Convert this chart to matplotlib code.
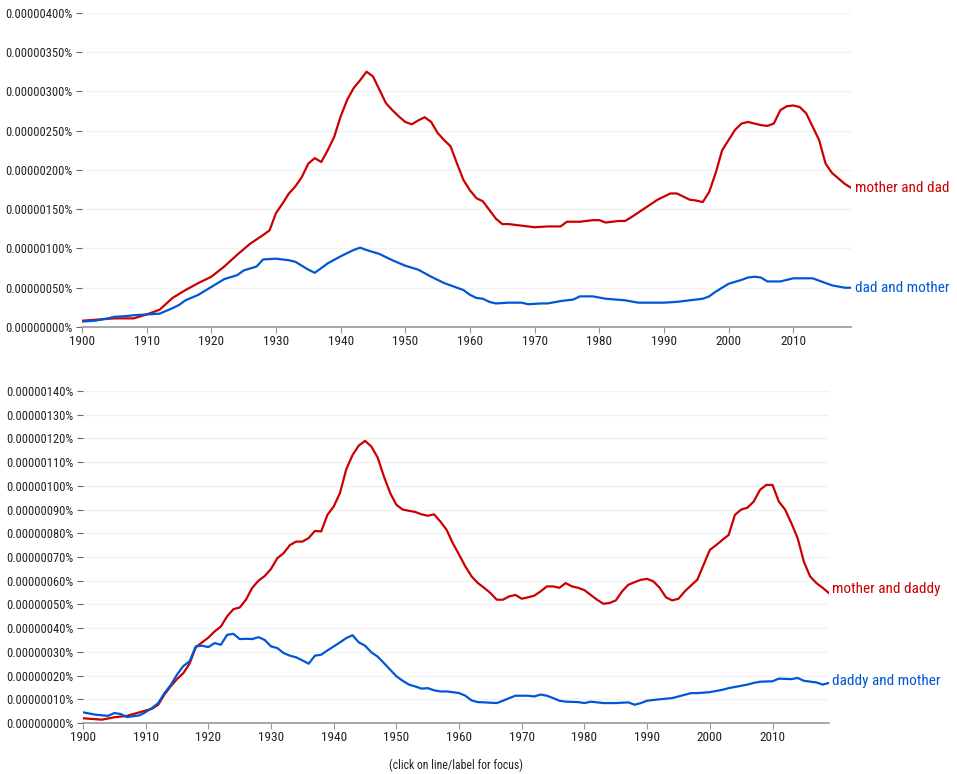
import matplotlib.pyplot as plt
import matplotlib.ticker as mticker
import numpy as np

plt.rcParams['font.family'] = ['Roboto Condensed', 'Roboto', 'DejaVu Sans']

# values in units of 1e-8 percent (e.g. 325 -> 0.00000325%)
md_years = [1900, 1905, 1908, 1910, 1912, 1914, 1916, 1918, 1920, 1922, 1924, 1926, 1928, 1929,
            1930, 1931, 1932, 1933, 1934, 1935, 1936, 1937, 1938, 1939, 1940, 1941, 1942, 1943,
            1944, 1945, 1946, 1947, 1948, 1949, 1950, 1951, 1952, 1953, 1954, 1955, 1956, 1957,
            1958, 1959, 1960, 1961, 1962, 1963, 1964, 1965, 1966, 1968, 1970, 1972, 1974, 1975,
            1977, 1979, 1980, 1981, 1983, 1984, 1985, 1987, 1989, 1991, 1992, 1993, 1994, 1995,
            1996, 1997, 1998, 1999, 2000, 2001, 2002, 2003, 2004, 2005, 2006, 2007, 2008, 2009,
            2010, 2011, 2012, 2013, 2014, 2015, 2016, 2017, 2018, 2019]
mother_and_dad = [8, 11, 11, 16, 22, 37, 47, 56, 64, 77, 92, 106, 117, 123,
                  145, 157, 170, 179, 191, 208, 215, 210, 225, 242, 268, 289, 304, 314,
                  325, 319, 302, 285, 276, 268, 261, 258, 263, 267, 261, 247, 238, 230,
                  208, 187, 174, 164, 160, 149, 138, 131, 131, 129, 127, 128, 128, 134,
                  134, 136, 136, 133, 135, 135, 140, 151, 162, 170, 170, 166, 162, 161,
                  159, 172, 196, 225, 238, 251, 259, 261, 259, 257, 256, 259, 276, 281,
                  282, 280, 272, 255, 238, 208, 196, 189, 182, 177]

dm_years = [1900, 1902, 1904, 1905, 1907, 1908, 1910, 1912, 1914, 1915, 1916, 1918, 1920, 1922,
            1924, 1925, 1927, 1928, 1930, 1932, 1933, 1935, 1936, 1937, 1938, 1940, 1942, 1943,
            1944, 1946, 1948, 1950, 1952, 1954, 1956, 1958, 1959, 1960, 1961, 1962, 1963, 1964,
            1966, 1968, 1969, 1971, 1972, 1974, 1976, 1977, 1979, 1981, 1984, 1986, 1990, 1992,
            1994, 1996, 1997, 1998, 2000, 2002, 2003, 2004, 2005, 2006, 2008, 2009, 2010, 2013,
            2014, 2016, 2018, 2019]
dad_and_mother = [7, 8, 11, 13, 14, 15, 16, 17, 24, 28, 34, 41, 51, 61,
                  66, 72, 77, 86, 87, 85, 83, 73, 69, 75, 81, 90, 98, 101,
                  98, 93, 85, 78, 73, 64, 56, 50, 47, 41, 37, 36, 32, 30,
                  31, 31, 29, 30, 30, 33, 35, 39, 39, 36, 34, 31, 31, 32,
                  34, 36, 39, 45, 55, 60, 63, 64, 63, 58, 58, 60, 62, 62,
                  59, 53, 50, 50]

mdy_years = list(range(1900, 1902)) + [1903, 1905, 1907, 1909] + list(range(1911, 2020))
mother_and_daddy = [2, 1.8, 1.4, 2.4, 3, 4.5, 6, 7.7, 12, 15.5, 18.5, 21, 25, 32, 34, 36, 38.6,
                    40.7, 45, 48, 48.7, 52, 57, 60, 62, 65, 69.5, 71.6, 75, 76.5, 76.5, 78, 81,
                    80.8, 87.8, 91.3, 97, 107, 113, 117, 119, 116.6, 112, 104, 97, 92, 90, 89.5,
                    89, 88, 87.4, 88, 85, 81.5, 75.8, 71, 66, 61.8, 59, 57, 54.8, 52, 52, 53.4,
                    54, 52.4, 53, 53.7, 55.5, 57.6, 57.6, 57, 59, 57.6, 57, 56, 54, 52, 50.3,
                    50.6, 51.7, 55.5, 58.3, 59.4, 60.4, 60.8, 59.7, 57, 53, 51.7, 52.4, 55.5, 58,
                    60.4, 66.7, 73, 75, 77.2, 79.3, 87.8, 90, 90.8, 93.4, 98.3, 100.4, 100.4,
                    93.4, 90, 84.3, 78, 68, 61.8, 59, 57, 54.8]

dym_years = [1900, 1902, 1904, 1905, 1906, 1907, 1909] + list(range(1910, 1964)) + \
            [1964, 1966, 1967, 1968, 1969, 1971, 1972, 1973, 1974, 1975, 1976, 1977, 1979, 1980,
             1981, 1983, 1985, 1987, 1988, 1989, 1990, 1992, 1994, 1995, 1996, 1997, 1998, 2000,
             2002, 2003, 2004, 2006, 2007, 2008, 2010, 2011, 2013, 2014, 2015, 2017, 2018, 2019]
daddy_and_mother = [4.5, 3.5, 3, 4.2, 3.8, 2.5, 3.2,
                    4.6, 6.3, 8.4, 12.6, 16, 20.4, 24, 26, 32.3, 32.6, 32, 33.7, 33, 37.2, 37.6,
                    35.4, 35.5, 35.4, 36.2, 35, 32.3, 31.6, 29.5, 28.4, 27.7, 26.4, 25, 28.4,
                    28.8, 30.6, 32.3, 34, 35.8, 37, 34, 32.6, 29.8, 28, 25.3, 22.5, 19.7, 17.8,
                    16.2, 15.4, 14.5, 14.7, 13.8, 13.3, 13.3, 13, 12.6, 11.5, 9.5, 8.8,
                    8.7, 8.4, 9.4, 10.5, 11.5, 11.5, 11.2, 12, 11.5, 10.5, 9.4, 9, 8.8, 8.4,
                    9, 8.4, 8.4, 8.7, 7.7, 8.4, 9.4, 10, 10.5, 11.2, 11.9, 12.6, 12.6, 13,
                    14, 14.7, 15.2, 16.2, 16.9, 17.4, 17.6, 18.7, 18.5, 19, 17.8, 17.1, 16.2, 16.9]

RED = '#cc0000'
BLUE = '#0057d6'
GRAY = '#666666'


def style(ax, ymax, ystep):
    ax.set_xlim(1900, 2019)
    ax.set_ylim(0, ymax)
    ax.set_yticks(np.arange(0, ymax + ystep / 2, ystep))
    ax.yaxis.set_major_formatter(mticker.FuncFormatter(lambda v, p: f'{v * 1e-8:.8f}%'))
    ax.set_xticks(range(1900, 2020, 10))
    ax.grid(axis='y', color='#f2f2f2', linewidth=1)
    ax.set_axisbelow(True)
    for s in ['top', 'right', 'left']:
        ax.spines[s].set_visible(False)
    ax.spines['bottom'].set_color('#999999')
    ax.spines['bottom'].set_linewidth(1.2)
    ax.tick_params(axis='y', length=4, color=GRAY, labelsize=9, labelcolor='#222222', pad=3)
    ax.tick_params(axis='x', length=4, color='#999999', labelsize=9.5, labelcolor='#222222', pad=2)


fig = plt.figure(figsize=(9.57, 7.74), dpi=100)

ax1 = fig.add_axes([0.0857, 0.5775, 0.804, 0.406])
ax1.plot(md_years, mother_and_dad, color=RED, lw=1.6, solid_joinstyle='round')
ax1.plot(dm_years, dad_and_mother, color=BLUE, lw=1.6, solid_joinstyle='round')
style(ax1, 400, 50)
ax1.text(2019.5, mother_and_dad[-1], 'mother and dad', color=RED, fontsize=11, va='center', ha='left')
ax1.text(2019.5, dad_and_mother[-1], 'dad and mother', color=BLUE, fontsize=11, va='center', ha='left')

ax2 = fig.add_axes([0.0867, 0.0659, 0.7795, 0.4289])
ax2.plot(mdy_years, mother_and_daddy, color=RED, lw=1.6, solid_joinstyle='round')
ax2.plot(dym_years, daddy_and_mother, color=BLUE, lw=1.6, solid_joinstyle='round')
style(ax2, 140, 10)
ax2.text(2019.5, mother_and_daddy[-1] + 1.5, 'mother and daddy', color=RED, fontsize=11, va='center', ha='left')
ax2.text(2019.5, daddy_and_mother[-1] + 0.8, 'daddy and mother', color=BLUE, fontsize=11, va='center', ha='left')

fig.text(0.477, 0.002, '(click on line/label for focus)', fontsize=8.5, color='#222222', ha='center', va='bottom')

fig.savefig('out.png', dpi=100)
